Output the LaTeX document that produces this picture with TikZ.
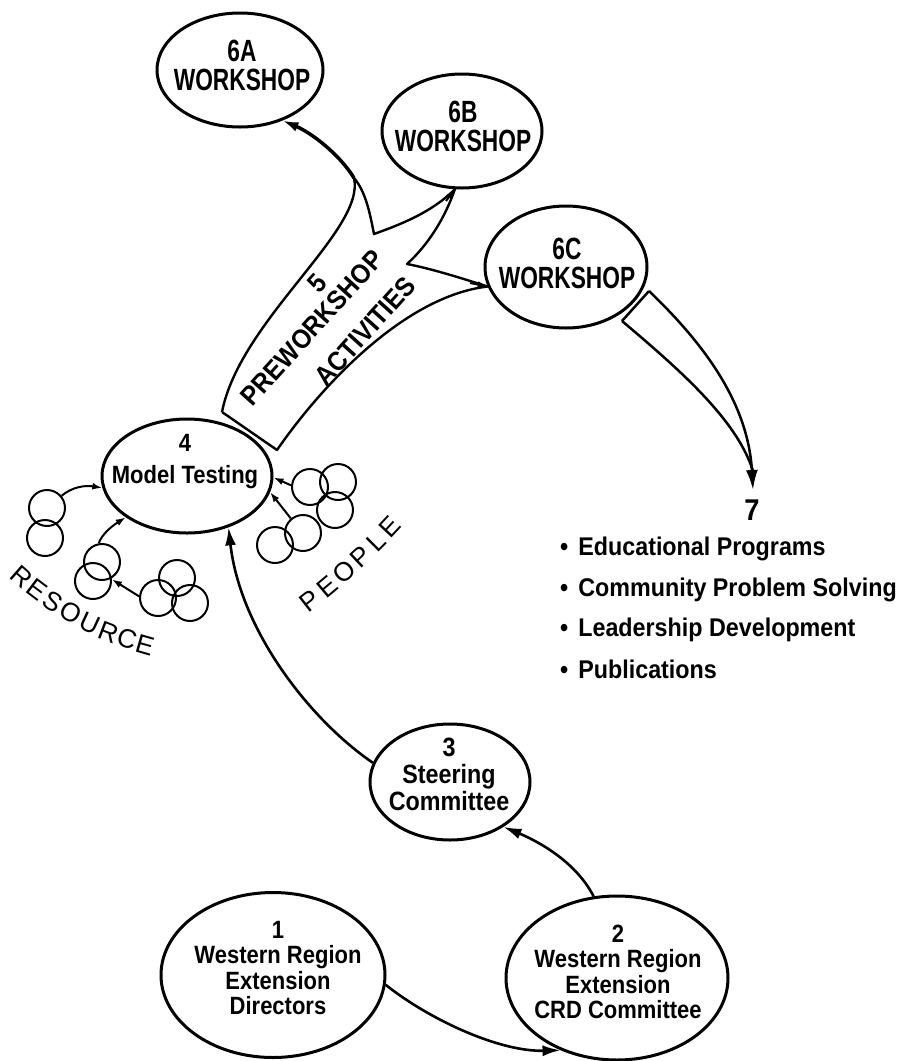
\documentclass[tikz,border=0pt]{standalone}
\usepackage{fontspec}
\setmainfont{Liberation Sans}
\newfontfamily\fntW[FakeStretch=0.74]{Liberation Sans}
\newfontfamily\fntN[FakeStretch=0.88]{Liberation Sans}
\newfontfamily\fntL[FakeStretch=0.91]{Liberation Sans}
\usetikzlibrary{shapes.geometric,arrows.meta}
\tikzset{
  ell/.style={draw, ellipse, line width=3pt, inner sep=0pt},
  wtext/.style={align=center, inner sep=0pt, font=\fntW\bfseries\fontsize{30.7}{29}\selectfont},
  mtext/.style={align=center, inner sep=0pt, font=\fntN\bfseries\fontsize{25}{32}\selectfont},
  stext/.style={align=center, inner sep=0pt, font=\fntN\bfseries\fontsize{26.5}{27}\selectfont},
  ntext/.style={align=center, inner sep=0pt, font=\fntN\bfseries\fontsize{25}{25.5}\selectfont},
  btext/.style={inner sep=0pt, font=\fntL\bfseries\fontsize{27}{27}\selectfont},
  ltext/.style={inner sep=0pt, anchor=base west, font=\fntL\bfseries\fontsize{25.6}{30}\selectfont},
  letter/.style={inner sep=0pt, font=\fontsize{26.5}{26.5}\selectfont},
  conn/.style={line width=2.6pt, -{Latex[length=18pt,width=11pt]}},
  bandline/.style={line width=2.4pt, line join=round},
  bub/.style={draw, circle, line width=2pt, minimum size=36pt, inner sep=0pt},
  smallarr/.style={line width=2pt, -{Latex[length=10pt,width=7pt]}}
}
\begin{document}
\begin{tikzpicture}[x=1pt,y=-1pt,line join=round]
\useasboundingbox (0,0) rectangle (901,1061);
\fill[white] (0,0) rectangle (901,1061);

% ellipses
\node[ell, minimum width=166pt, minimum height=114pt] (n6A) at (240,70) {};
\node[ell, minimum width=160pt, minimum height=114pt] (n6B) at (462,131) {};
\node[ell, minimum width=162pt, minimum height=122pt] (n6C) at (566,267) {};
\node[ell, minimum width=170pt, minimum height=114pt] (n4) at (187,476) {};
\node[ell, minimum width=160pt, minimum height=116pt] (n3) at (450,782) {};
\node[ell, minimum width=224pt, minimum height=165pt] (n1) at (273,975) {};
\node[ell, minimum width=222pt, minimum height=164pt] (n2) at (617,978) {};

% texts in ellipses
\node[wtext] (t6A) at (242,65) {6A\\WORKSHOP};
\node[wtext] (t6B) at (463,126) {6B\\WORKSHOP};
\node[wtext] (t6C) at (567,263.5) {6C\\WORKSHOP};
\node[mtext] (t4) at (185,461.5) {4\\Model Testing};
\node[stext] (t3) at (449,774) {3\\Steering\\Committee};
\node[ntext] (t1) at (278,968) {1\\Western Region\\Extension\\Directors};
\node[ntext] (t2) at (618,972) {2\\Western Region\\Extension\\CRD Committee};

% main connectors
\draw[conn] (n1.-5) .. controls (430,1020) and (500,1052) .. (n2.-128);
\draw[conn] (n2.106) .. controls (575,860) and (535,840) .. (n3.-40);
\draw[conn] (n3.166) .. controls (310,720) and (240,630) .. (n4.-51);

% preworkshop band
\coordinate (bE1) at (222,412);
\coordinate (bE2) at (277,450);
\coordinate (nB) at (407,264);
\coordinate (nA) at (374,234);
\coordinate (mA) at (354,178);
\coordinate (aB) at (446,201);
\coordinate (aC) at (470,283);
\draw[bandline] (bE1) -- (bE2)
  .. controls (322,385) and (405,296) .. (n6C.-166)
  .. controls (455,276) and (428,268) .. (nB)
  .. controls (428,245) and (445,218) .. (n6B.-97)
  .. controls (432,212) and (402,224) .. (nA)
  .. controls (370,214) and (366,192) .. (mA)
  .. controls (366,230) and (240,320) .. (bE1);
\draw[line width=3.5pt, -{Latex[length=16pt,width=10pt]}] (mA) .. controls (340,155) and (312,133) .. (n6A.-50);
\draw[smallarr] (aB) -- (n6B.-97);
\draw[smallarr] (aC) -- (n6C.-166);
\node[btext, rotate=48] (t5) at (317,283) {5};
\node[btext, rotate=48] (tPre) at (312,328) {PREWORKSHOP};
\node[btext, rotate=48] (tAct) at (365,331) {ACTIVITIES};

% 6C -> 7
\coordinate (o7s) at (649,291);
\coordinate (i7s) at (622,321);
\coordinate (a7) at (753,471);
\coordinate (c7tip) at (753,490);
\draw[line width=2.5pt] (i7s) -- (o7s);
\draw[line width=2.5pt, -{Latex[length=20pt,width=12pt]}] (o7s) .. controls (700,340) and (748,400) .. (c7tip);
\draw[line width=2.5pt] (i7s) .. controls (680,370) and (737,420) .. (a7);

% 7 and list
\node[inner sep=0pt, font=\fntL\bfseries\fontsize{30}{30}\selectfont] (t7) at (752,510) {7};
\node[ltext] (li1) at (560,555) {•\hspace{10pt}Educational Programs};
\node[ltext] (li2) at (560,596) {•\hspace{10pt}Community Problem Solving};
\node[ltext] (li3) at (560,636) {•\hspace{10pt}Leadership Development};
\node[ltext] (li4) at (560,678) {•\hspace{10pt}Publications};

% circles
\node[bub] (L1) at (47,508) {};
\node[bub] (L2) at (45,538) {};
\node[bub] (M1) at (102,562) {};
\node[bub] (M2) at (93,581) {};
\node[bub] (B1) at (177,578) {};
\node[bub] (B2) at (158,598) {};
\node[bub] (B3) at (190,603) {};
\node[bub] (R1) at (310,487) {};
\node[bub] (R2) at (338,482) {};
\node[bub] (R3) at (335,510) {};
\node[bub] (S1) at (275,545) {};
\node[bub] (S2) at (303,533) {};
\draw[smallarr] (L1.40) .. controls (72,487) and (85,485) .. (n4.-172);
\draw[smallarr] (M1.100) .. controls (102,534) and (112,526) .. (n4.-146);
\draw[smallarr] (B2.175) -- (M2.5);
\draw[smallarr] (R1.175) -- (n4.-1);
\draw[smallarr] (S2.130) -- (n4.-11);

% RESOURCE
\node[letter, rotate=-41] (r1) at (22,577) {R};
\node[letter, rotate=-37] (r2) at (37,590) {E};
\node[letter, rotate=-33] (r3) at (53,602) {S};
\node[letter, rotate=-29] (r4) at (71,613) {O};
\node[letter, rotate=-25] (r5) at (90,623) {U};
\node[letter, rotate=-21] (r6) at (109,632) {R};
\node[letter, rotate=-18] (r7) at (127,639) {C};
\node[letter, rotate=-16] (r8) at (145,645) {E};
% PEOPLE
\node[letter, rotate=38] (p1) at (310,601) {P};
\node[letter, rotate=40] (p2) at (327,587) {E};
\node[letter, rotate=41] (p3) at (344,572) {O};
\node[letter, rotate=43] (p4) at (361,557) {P};
\node[letter, rotate=45] (p5) at (376,542) {L};
\node[letter, rotate=47] (p6) at (390,527) {E};
\end{tikzpicture}
\end{document}
